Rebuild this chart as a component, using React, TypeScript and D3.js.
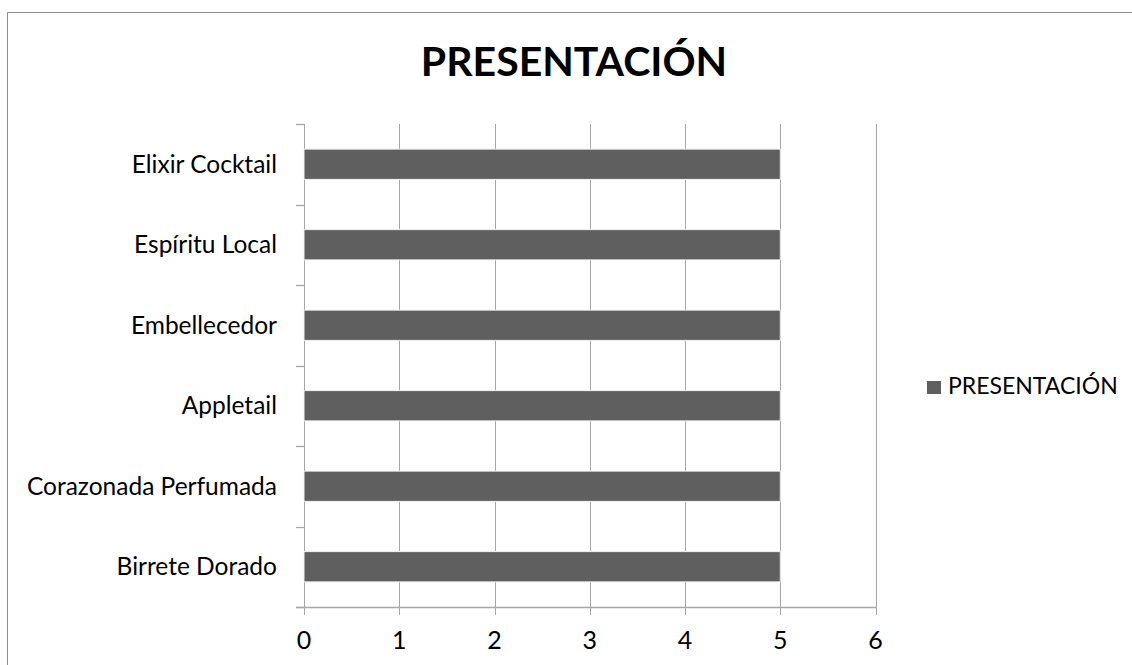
import React from "react";
import * as d3 from "d3";

const categories = [
  "Elixir Cocktail",
  "Espíritu Local",
  "Embellecedor",
  "Appletail",
  "Corazonada Perfumada",
  "Birrete Dorado",
];
const values = [5, 5, 5, 5, 5, 5];
const xTicks = [0, 1, 2, 3, 4, 5, 6];
const seriesName = "PRESENTACIÓN";
const title = "PRESENTACIÓN";

const W = 1132;
const H = 665;
const FONT = "Lato, Carlito, Calibri, sans-serif";

export default function App() {
  const x = d3.scaleLinear().domain([0, 6]).range([304, 875.5]);
  const y = d3
    .scaleBand<string>()
    .domain(categories)
    .range([124, 607])
    .paddingInner(0.624)
    .paddingOuter(0.312);
  const yTickPos = d3.range(categories.length + 1).map((i) => 124 + (i * (607 - 124)) / categories.length);
  const grid = "#a6a6a6";

  return (
    <div style={{ position: "fixed", left: 0, top: 0, width: W, height: H, background: "#fff" }}>
      <svg width={W} height={H} style={{ display: "block" }}>
        <rect x={0} y={0} width={W} height={H} fill="#fff" />
        <line x1={7.5} y1={12.5} x2={W} y2={12.5} stroke="#8c8c8c" strokeWidth={1} />
        <line x1={7.5} y1={12.5} x2={7.5} y2={H} stroke="#8c8c8c" strokeWidth={1} />
        <text x={574} y={76} textAnchor="middle" fontFamily={FONT} fontWeight="bold" fontSize={41} fill="#000">
          {title}
        </text>
        {xTicks.map((t) => (
          <g key={"g" + t}>
            <line x1={Math.round(x(t)) + 0.5} x2={Math.round(x(t)) + 0.5} y1={124} y2={615} stroke={grid} strokeWidth={1} />
            <text x={x(t)} y={649} textAnchor="middle" fontFamily={FONT} fontSize={25} fill="#000">
              {t}
            </text>
          </g>
        ))}
        <line x1={296} x2={Math.round(x(6)) + 1} y1={607.5} y2={607.5} stroke={grid} strokeWidth={1.3} />
        {yTickPos.map((p, i) => (
          <line key={"yt" + i} x1={296} x2={304} y1={Math.round(p) + 0.5} y2={Math.round(p) + 0.5} stroke={grid} strokeWidth={1.3} />
        ))}
        {categories.map((c, i) => (
          <g key={c}>
            <rect
              x={x(0)}
              y={y(c)!}
              width={x(values[i]) - x(0)}
              height={y.bandwidth()}
              fill="#5f5f5f"
              stroke="#f2f2f2"
              strokeWidth={1}
            />
            <text
              x={277}
              y={(y(c)! + y.bandwidth() / 2) + 8.5}
              textAnchor="end"
              fontFamily={FONT}
              fontSize={24.5}
              fill="#000"
            >
              {c}
            </text>
          </g>
        ))}
        <rect x={927} y={381} width={14} height={13} fill="#5f5f5f" />
        <text x={948} y={394} fontFamily={FONT} fontSize={23} fill="#000">
          {seriesName}
        </text>
      </svg>
    </div>
  );
}
